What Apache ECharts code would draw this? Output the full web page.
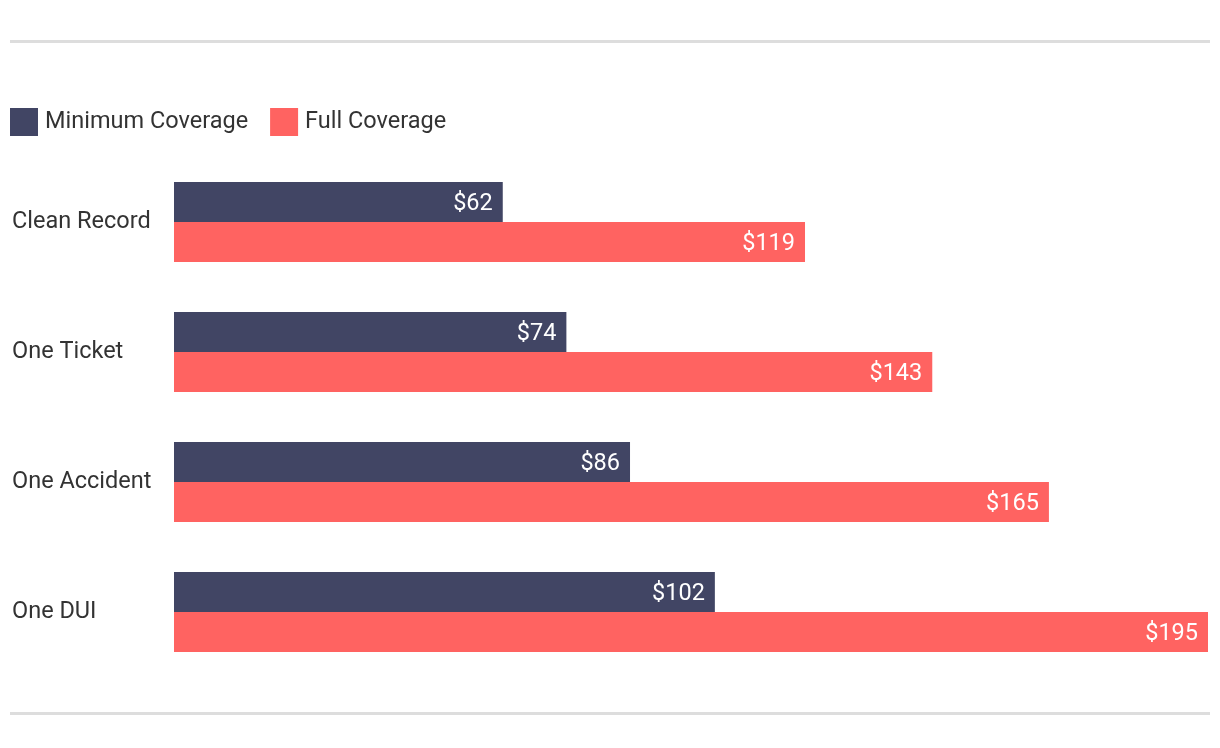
<!DOCTYPE html>
<html>
<head>
<meta charset="utf-8">
<script src="https://cdn.jsdelivr.net/npm/echarts@6/dist/echarts.min.js"></script>
<style>html,body{margin:0;padding:0;background:#fff}#main{width:1220px;height:748px}</style>
</head>
<body>
<div id="main"></div>
<script>
const categories = ['Clean Record', 'One Ticket', 'One Accident', 'One DUI'];
const seriesNames = ['Minimum Coverage', 'Full Coverage'];
const minimumCoverage = [62, 74, 86, 102];
const fullCoverage = [119, 143, 165, 195];
const colors = ['#414564', '#FF6361'];

const chart = echarts.init(document.getElementById('main'));
const labelCfg = {
  show: true,
  position: 'insideRight',
  distance: 10,
  offset: [0, 2],
  color: '#fff',
  fontFamily: 'Roboto',
  fontSize: 23.5,
  formatter: p => '$' + p.value
};
chart.setOption({
  animation: false,
  textStyle: {fontFamily: 'Roboto'},
  legend: {
    left: 10, top: 108,
    itemWidth: 28, itemHeight: 28, itemGap: 22,
    icon: 'rect',
    padding: 0,
    textStyle: {fontFamily: 'Roboto', fontSize: 23.5, color: '#333', padding: [2, 0, 0, 2]},
    data: seriesNames
  },
  graphic: [
    {type: 'rect', shape: {x: 10, y: 40, width: 1200, height: 3}, style: {fill: '#dddddd'}},
    {type: 'rect', shape: {x: 10, y: 712, width: 1200, height: 3}, style: {fill: '#dddddd'}}
  ],
  grid: {left: 174, right: 12, top: 157, bottom: 71, containLabel: false},
  xAxis: {type: 'value', min: 0, max: 195, show: false},
  yAxis: {
    type: 'category', data: categories, inverse: true,
    axisLine: {show: false}, axisTick: {show: false},
    axisLabel: {align: 'left', margin: 162, fontFamily: 'Roboto', fontSize: 23.5, color: '#333', padding: [4, 0, 0, 0]}
  },
  series: [
    {name: seriesNames[0], type: 'bar', data: minimumCoverage, barWidth: 40, barGap: '0%', itemStyle: {color: colors[0]}, label: labelCfg},
    {name: seriesNames[1], type: 'bar', data: fullCoverage, barWidth: 40, barGap: '0%', itemStyle: {color: colors[1]}, label: labelCfg}
  ]
});
</script>
</body>
</html>
